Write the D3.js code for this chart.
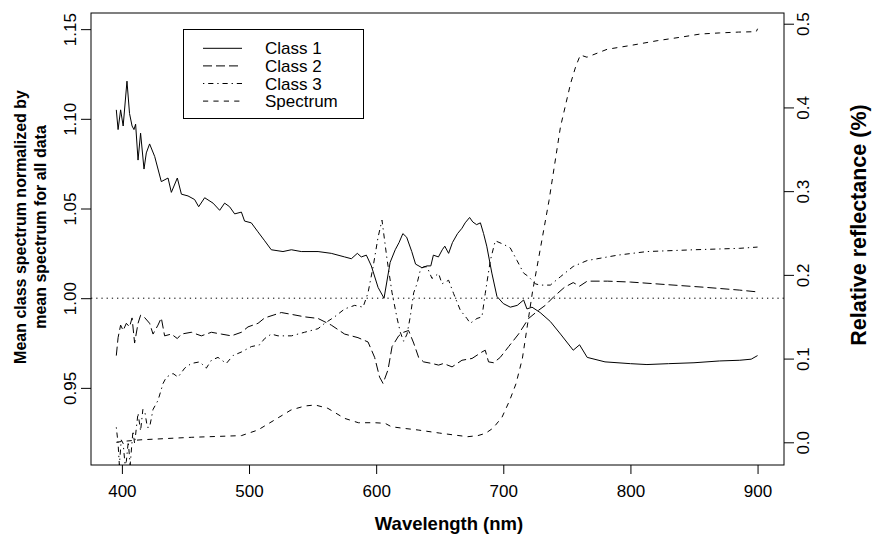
<!DOCTYPE html>
<html>
<head>
<meta charset="utf-8">
<title>Mean class spectrum</title>
<script src="https://d3js.org/d3.v7.min.js"></script>
<style>
  body { margin: 0; background: #fff; }
  svg text { font-family: "Liberation Sans", Arial, Helvetica, sans-serif; fill: #000; }
</style>
</head>
<body>
<script>
// data: [wavelength nm, value]
var class1 = [[395.6,1.105],[397,1.094],[399,1.105],[401,1.096],[404,1.121],[406,1.103],[408,1.096],[409.5,1.094],
  [410.8,1.097],[412.7,1.077],[414.7,1.092],[417.4,1.072],[419.2,1.081],[421.8,1.086],[425.8,1.079],[431,1.065],
  [436.3,1.067],[438.9,1.059],[443.6,1.067],[446.8,1.058],[452,1.057],[457.2,1.055],[460.4,1.051],[465.1,1.056],
  [471.7,1.053],[476.9,1.049],[480.8,1.053],[484.7,1.051],[488.7,1.047],[494,1.048],[496.5,1.043],[501.8,1.042],
  [507,1.037],[512.3,1.032],[517.5,1.027],[526.7,1.026],[533.3,1.027],[541.1,1.026],[554.3,1.026],[564.7,1.025],
  [575.2,1.023],[580.5,1.022],[585.2,1.025],[588.3,1.023],[592.3,1.024],[596.2,1.018],[601.5,1.006],[606.2,1.000],
  [611,1.020],[615,1.027],[618,1.031],[621,1.036],[624,1.034],[628,1.026],[631,1.019],[636,1.017],[640,1.018],
  [643,1.018],[645,1.024],[649,1.023],[652,1.027],[654,1.029],[657,1.025],[660,1.031],[664,1.036],[667.5,1.039],
  [670,1.042],[673.5,1.045],[676,1.0425],[679,1.041],[682,1.042],[684.5,1.036],[687,1.029],[691,1.014],[695,1.001],
  [700,0.997],[705.5,0.995],[711,0.996],[716,0.999],[718.6,0.994],[722.6,0.995],[729,0.992],[737,0.987],[745,0.980],
  [755,0.971],[760,0.974],[766,0.967],[780,0.9645],[800,0.9635],[813,0.963],[830,0.9635],[850,0.964],[870,0.965],
  [886,0.9654],[895,0.966],[900,0.968]];

var class2 = [[395.6,0.968],[397,0.978],[399,0.985],[401,0.982],[403.5,0.986],[406,0.984],[408,0.989],[410,0.975],
  [412.7,0.986],[414.7,0.9905],[417.4,0.9896],[421.8,0.986],[424.5,0.980],[428.4,0.985],[431,0.989],[433.6,0.979],
  [438.9,0.980],[443.6,0.9775],[446.8,0.980],[454.6,0.981],[462.5,0.979],[470.4,0.981],[478.2,0.980],[486.1,0.979],
  [494,0.981],[499.2,0.984],[507.1,0.986],[512.3,0.989],[518.9,0.9905],[525.4,0.992],[533.3,0.991],[543.7,0.9896],
  [554.3,0.9887],[564.7,0.985],[575.2,0.980],[585.7,0.978],[593.6,0.9756],[598.8,0.967],[602.7,0.956],[605.4,0.9525],
  [609.3,0.960],[612.5,0.973],[617.7,0.979],[621.6,0.981],[625.5,0.982],[629.5,0.975],[633.4,0.967],[637.3,0.9645],
  [643.9,0.9636],[649.1,0.9627],[653,0.9636],[659.7,0.9617],[667.5,0.9654],[675.4,0.9664],[683.2,0.970],[685.8,0.971],
  [688.4,0.9645],[692.4,0.964],[697.6,0.967],[704.2,0.973],[712,0.980],[719.9,0.9887],[727.8,0.9933],[733,0.996],
  [740,1.001],[748,1.006],[755,1.0087],[760,1.0067],[766,1.0095],[782,1.0095],[800,1.009],[820,1.008],[840,1.007],
  [860,1.006],[886,1.0045],[900,1.0035]];

var class3 = [[395.6,0.928],[397,0.919],[398,0.907],[399.5,0.921],[401,0.919],[402.5,0.907],[403.5,0.909],[405,0.920],
  [406.5,0.907],[408.7,0.926],[410,0.919],[412.7,0.936],[414.7,0.926],[416.5,0.938],[418.2,0.936],[420,0.928],
  [421.8,0.928],[424.5,0.938],[428.4,0.943],[432.4,0.9525],[435,0.956],[440.2,0.958],[444.2,0.956],[449.4,0.961],
  [454.6,0.9636],[461.2,0.9645],[466.4,0.961],[470.4,0.9654],[475.6,0.967],[482.1,0.9636],[487.4,0.968],[494,0.970],
  [501.8,0.973],[508.3,0.974],[512.3,0.9775],[517.5,0.980],[522.8,0.979],[533.3,0.979],[543.7,0.981],[554.3,0.983],
  [559.5,0.986],[567.3,0.9896],[575.2,0.994],[583.1,0.996],[589.7,0.995],[593.6,1.003],[597.6,1.0175],[601.5,1.034],
  [604.6,1.0435],[608.5,1.022],[612.5,1.003],[616.4,0.989],[619,0.981],[621.6,0.976],[624.3,0.980],[626.9,0.990],
  [629.5,1.003],[632.1,1.008],[634.7,1.0156],[637.3,1.0175],[640,1.0175],[643.9,1.011],[649.1,1.0138],[651.8,1.008],
  [657,1.010],[660.9,1.0026],[666.2,0.9933],[671.4,0.9887],[674,0.986],[679.3,0.9887],[683.2,0.9896],[685.8,1.0026],
  [689.8,1.021],[693.7,1.032],[700.3,1.030],[705.5,1.028],[710.8,1.021],[716,1.014],[719.9,1.012],[725.2,1.008],
  [729,1.0073],[737,1.0073],[745,1.012],[755,1.0177],[766,1.021],[790,1.024],[813,1.026],[850,1.027],[886,1.0278],
  [900,1.0285]];

// relative reflectance, right axis
var spectrum = [[395.6,0.000],[400,0.001],[415,0.003],[455,0.006],[494,0.008],[507,0.0147],[520,0.0266],[533,0.0386],
  [544,0.0434],[552,0.0446],[562,0.0406],[575,0.0287],[586,0.0234],[599,0.0234],[607,0.0227],[612,0.0186],[620,0.017],
  [633,0.0147],[650,0.011],[660,0.009],[672,0.0067],[680,0.008],[686,0.0107],[692,0.017],[699,0.030],[705,0.050],
  [710,0.070],[715,0.100],[719,0.140],[723,0.180],[729,0.230],[736,0.289],[745,0.377],[753,0.429],[757,0.449],
  [760.6,0.4626],[765.8,0.460],[781.6,0.4694],[800,0.474],[821,0.4797],[840,0.484],[855,0.4877],[870,0.489],
  [885,0.490],[899,0.4905],[900,0.494]];

var xTicks = [400, 500, 600, 700, 800, 900];
var leftTicks = [0.95, 1.00, 1.05, 1.10, 1.15];
var rightTicks = [0.0, 0.1, 0.2, 0.3, 0.4, 0.5];
var legendNames = ["Class 1", "Class 2", "Class 3", "Spectrum"];

var width = 872, height = 538;
var margin = { top: 13, bottom: 73, left: 91, right: 88 };

var svg = d3.select("body").append("svg").attr("width", width).attr("height", height);

var xScale = d3.scaleLinear().domain([375.7, 920.8]).range([margin.left, width - margin.right]);
var yLeft = d3.scaleLinear().domain([0.907, 1.159]).range([height - margin.bottom, margin.top]);
var yRight = d3.scaleLinear().domain([-0.0271, 0.5128]).range([height - margin.bottom, margin.top]);

var plotW = width - margin.left - margin.right;
var plotH = height - margin.top - margin.bottom;

svg.append("clipPath").attr("id", "plotclip")
  .append("rect").attr("x", margin.left).attr("y", margin.top).attr("width", plotW).attr("height", plotH);

// axes
var fs = 17;
var axB = svg.append("g")
  .attr("transform", "translate(0," + (height - margin.bottom) + ")")
  .call(d3.axisBottom(xScale).tickValues(xTicks).tickSize(9).tickFormat(d3.format("d")));
axB.selectAll("text").attr("y", 32).attr("dy", 0).attr("font-size", fs);

var axL = svg.append("g")
  .attr("transform", "translate(" + margin.left + ",0)")
  .call(d3.axisLeft(yLeft).tickValues(leftTicks).tickSize(10).tickFormat(d3.format(".2f")));
axL.selectAll("text").attr("x", 0).attr("y", 0).attr("dy", "0.35em")
  .attr("text-anchor", "middle").attr("font-size", fs)
  .attr("transform", "translate(-21,0) rotate(-90)");

var axR = svg.append("g")
  .attr("transform", "translate(" + (width - margin.right) + ",0)")
  .call(d3.axisRight(yRight).tickValues(rightTicks).tickSize(10).tickFormat(d3.format(".1f")));
axR.selectAll("text").attr("x", 0).attr("y", 0).attr("dy", "0.35em")
  .attr("text-anchor", "middle").attr("font-size", fs)
  .attr("transform", "translate(19,0) rotate(-90)");

svg.selectAll(".domain").remove();
svg.selectAll(".tick line").attr("stroke", "#000");

// box
svg.append("rect")
  .attr("x", margin.left).attr("y", margin.top).attr("width", plotW).attr("height", plotH)
  .attr("fill", "none").attr("stroke", "#000").attr("stroke-width", 1);

// axis titles
svg.append("text").attr("x", 449).attr("y", 530).attr("text-anchor", "middle")
  .attr("font-size", 18.5).attr("font-weight", "bold").text("Wavelength (nm)");

svg.append("text").attr("text-anchor", "middle").attr("font-size", 16).attr("font-weight", "bold")
  .attr("transform", "translate(26,227) rotate(-90)").text("Mean class spectrum normalized  by");
svg.append("text").attr("text-anchor", "middle").attr("font-size", 16).attr("font-weight", "bold")
  .attr("transform", "translate(46,227) rotate(-90)").text("mean spectrum for all data");

svg.append("text").attr("text-anchor", "middle").attr("font-size", 21.5).attr("font-weight", "bold")
  .attr("transform", "translate(866,225) rotate(-90)").text("Relative reflectance (%)");

// lines
var plot = svg.append("g").attr("clip-path", "url(#plotclip)");

plot.append("line")
  .attr("x1", margin.left).attr("x2", width - margin.right)
  .attr("y1", yLeft(1)).attr("y2", yLeft(1))
  .attr("stroke", "#000").attr("stroke-width", 1).attr("stroke-dasharray", "1.3,3.9");

var lineL = d3.line().x(function(d) { return xScale(d[0]); }).y(function(d) { return yLeft(d[1]); });
var lineR = d3.line().x(function(d) { return xScale(d[0]); }).y(function(d) { return yRight(d[1]); });

var dashes = ["none", "9,4", "1.3,3.9,5.2,3.9", "5.2,5.2"];

[class1, class2, class3].forEach(function(s, i) {
  plot.append("path").datum(s)
    .attr("fill", "none").attr("stroke", "#000").attr("stroke-width", 1)
    .attr("stroke-dasharray", dashes[i])
    .attr("d", lineL);
});
plot.append("path").datum(spectrum)
  .attr("fill", "none").attr("stroke", "#000").attr("stroke-width", 1)
  .attr("stroke-dasharray", dashes[3])
  .attr("d", lineR);

// legend
var lg = svg.append("g");
lg.append("rect").attr("x", 183.5).attr("y", 29.5).attr("width", 180).attr("height", 89)
  .attr("fill", "#fff").attr("stroke", "#000").attr("stroke-width", 1);
legendNames.forEach(function(name, i) {
  var cy = 48.3 + i * 17.6;
  lg.append("line").attr("x1", 203).attr("x2", 242).attr("y1", cy).attr("y2", cy)
    .attr("stroke", "#000").attr("stroke-width", 1).attr("stroke-dasharray", dashes[i]);
  lg.append("text").attr("x", 265).attr("y", cy + 6).attr("font-size", fs).text(name);
});
</script>
</body>
</html>
